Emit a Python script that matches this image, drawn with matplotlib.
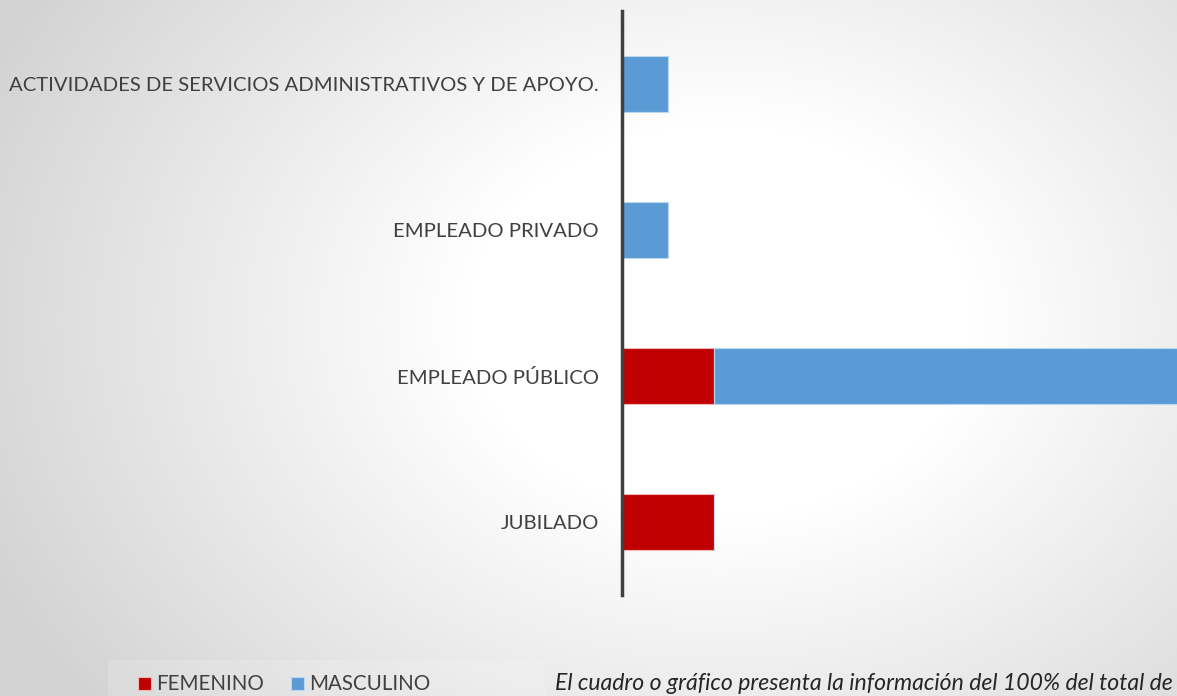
import numpy as np
import matplotlib
matplotlib.use("Agg")
import matplotlib.pyplot as plt
from matplotlib.patches import Rectangle

# datos
categorias = ["JUBILADO", "EMPLEADO PÚBLICO", "EMPLEADO PRIVADO",
              "ACTIVIDADES DE SERVICIOS ADMINISTRATIVOS Y DE APOYO."]
femenino = [2, 2, 0, 0]
masculino = [0, 12, 1, 1]
series = ["FEMENINO", "MASCULINO"]
nota = "El cuadro o gráfico presenta la información del 100% del total de"

ROJO = "#c00000"
AZUL = "#5b9bd5"
TEXTO = "#404040"

plt.rcParams['font.family'] = ['Lato', 'DejaVu Sans']

W, H = 1177, 696
fig = plt.figure(figsize=(W / 100, H / 100), dpi=100)

# fondo con degradado radial
bg = fig.add_axes([0, 0, 1, 1], zorder=0)
yy, xx = np.mgrid[0:H, 0:W]
r = np.sqrt(((xx - 720) / 720) ** 2 + ((yy - 320) / 560) ** 2)
r = np.clip((r - 0.35) / 0.75, 0, 1)
val = 1.0 - 0.17 * r
img = np.dstack([val, val, val])
bg.imshow(img, extent=[0, W, H, 0], aspect='auto')
bg.set_xlim(0, W)
bg.set_ylim(H, 0)
bg.axis('off')
# recuadro claro de la leyenda
bg.add_patch(Rectangle((108, 660), 437, 40, facecolor='white', alpha=0.15, edgecolor='none'))

ax = fig.add_axes([622 / W, 1 - 595 / H, 1 - 622 / W, (595 - 11) / H], zorder=1)
ax.patch.set_alpha(0)
y = np.arange(len(categorias))
alto = 0.39
ax.barh(y, femenino, height=alto, color=ROJO, edgecolor='#f2b8b8', linewidth=0.8, label=series[0])
ax.barh(y, masculino, left=femenino, height=alto, color=AZUL, edgecolor='#bcd7f0', linewidth=0.8, label=series[1])

ax.set_xlim(0, (W - 622) / 46)
ax.set_ylim(-0.5, len(categorias) - 0.5)
ax.set_yticks(y)
ax.set_yticklabels(categorias, fontsize=14.6, color=TEXTO)
ax.tick_params(axis='y', length=0, pad=16.5)
ax.set_xticks([])
for s in ['top', 'right', 'bottom']:
    ax.spines[s].set_visible(False)
ax.spines['left'].set_color('#404040')
ax.spines['left'].set_linewidth(2.5)

# leyenda
bg.add_patch(Rectangle((138, 677), 13, 13, facecolor=ROJO, edgecolor='#f2b8b8', linewidth=0.8))
bg.text(156, 684, series[0], fontsize=14.8, color=TEXTO, va='center', ha='left')
bg.add_patch(Rectangle((291, 677), 13, 13, facecolor=AZUL, edgecolor='#bcd7f0', linewidth=0.8))
bg.text(309, 684, series[1], fontsize=14.8, color=TEXTO, va='center', ha='left')

bg.text(555, 684, nota, fontsize=16.6, style='italic', color='#262626', va='center', ha='left')

fig.savefig("out.png", dpi=100)
